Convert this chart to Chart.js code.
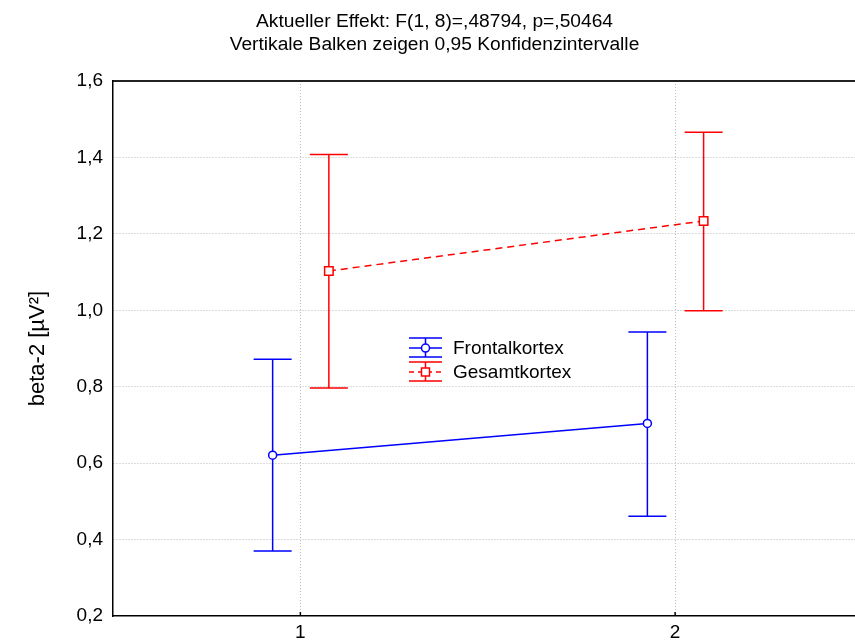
<!DOCTYPE html>
<html>
<head>
<meta charset="utf-8">
<script src="https://cdn.jsdelivr.net/npm/chart.js@4"></script>
<style>
  html, body { margin: 0; padding: 0; background: #fff; }
  #wrap { width: 855px; height: 644px; }
</style>
</head>
<body>
<div id="wrap"><canvas id="chart" width="855" height="644"></canvas></div>
<script>
// ── Data ───────────────────────────────────────────────────────────

const groups = [1, 2];
const groupLabels = ['1', '2'];

const frontalMean = [0.621, 0.704];
const frontalLow  = [0.370, 0.461];
const frontalHigh = [0.872, 0.943];

const gesamtMean = [1.103, 1.234];
const gesamtLow  = [0.797, 0.999];
const gesamtHigh = [1.408, 1.466];

const yTicks = [0.2, 0.4, 0.6, 0.8, 1.0, 1.2, 1.4, 1.6];
const yTickLabels = ['0,2', '0,4', '0,6', '0,8', '1,0', '1,2', '1,4', '1,6'];

const titleLines = [
  'Aktueller Effekt: F(1, 8)=,48794, p=,50464',
  'Vertikale Balken zeigen 0,95 Konfidenzintervalle',
];
const yTitle = 'beta-2 [µV²]';
const seriesNames = ['Frontalkortex', 'Gesamtkortex'];

// ── Styling ────────────────────────────────────────────────────────

const FONT = 'Arial, "Liberation Sans", sans-serif';
const BLUE = '#0000ff';
const RED = '#ff0000';
const GRID = '#b8b8b8';
const SHIFT = [-0.074, 0.076];     // horizontal dodge per series
const CAP = 19;                    // half-width of error bar caps

const series = [
  { name: seriesNames[0], mean: frontalMean, low: frontalLow, high: frontalHigh,
    color: BLUE, dash: [], point: 'circle', radius: 4, shift: SHIFT[0] },
  { name: seriesNames[1], mean: gesamtMean, low: gesamtLow, high: gesamtHigh,
    color: RED, dash: [7, 5], point: 'rect', radius: 6, shift: SHIFT[1] },
];

// ── Plugins ────────────────────────────────────────────────────────

const errorBars = {
  id: 'errorBars',
  beforeDatasetsDraw(chart) {
    const { ctx, scales: { x, y } } = chart;
    ctx.save();
    ctx.lineWidth = 1.5;
    series.forEach(s => {
      ctx.strokeStyle = s.color;
      groups.forEach((g, i) => {
        const px = x.getPixelForValue(g + s.shift);
        const lo = y.getPixelForValue(s.low[i]);
        const hi = y.getPixelForValue(s.high[i]);
        ctx.beginPath();
        ctx.moveTo(px, lo); ctx.lineTo(px, hi);
        ctx.moveTo(px - CAP, lo); ctx.lineTo(px + CAP, lo);
        ctx.moveTo(px - CAP, hi); ctx.lineTo(px + CAP, hi);
        ctx.stroke();
      });
    });
    ctx.restore();
  },
};

// short inward tick marks on the bottom axis
const innerTicks = {
  id: 'innerTicks',
  afterDraw(chart) {
    const { ctx, chartArea, scales: { x } } = chart;
    ctx.save();
    ctx.strokeStyle = '#000';
    ctx.lineWidth = 1.5;
    ctx.beginPath();
    x.ticks.forEach(t => {
      const px = x.getPixelForValue(t.value);
      ctx.moveTo(px, chartArea.bottom);
      ctx.lineTo(px, chartArea.bottom - 4);
    });
    ctx.stroke();
    ctx.restore();
  },
};

// legend box inside the plot, each entry drawn as a small error bar glyph
const innerLegend = {
  id: 'innerLegend',
  afterDraw(chart) {
    const { ctx, chartArea } = chart;
    const x0 = chartArea.left + 296;
    const top = chartArea.top + 267;
    const w = 33;
    ctx.save();
    series.forEach((s, i) => {
      const cy = top + i * 24;
      const cx = x0 + w / 2;
      ctx.strokeStyle = s.color;
      ctx.lineWidth = 1.5;
      ctx.setLineDash([]);
      ctx.beginPath();
      ctx.moveTo(x0, cy - 10); ctx.lineTo(x0 + w, cy - 10);
      ctx.moveTo(x0, cy + 9); ctx.lineTo(x0 + w, cy + 9);
      ctx.moveTo(cx, cy - 10); ctx.lineTo(cx, cy + 9);
      ctx.stroke();
      ctx.setLineDash(s.dash.length ? [5, 4] : []);
      ctx.beginPath();
      ctx.moveTo(x0, cy); ctx.lineTo(x0 + w, cy);
      ctx.stroke();
      ctx.setLineDash([]);
      ctx.fillStyle = '#fff';
      ctx.beginPath();
      if (s.point === 'circle') ctx.arc(cx, cy, 4, 0, Math.PI * 2);
      else ctx.rect(cx - 4, cy - 4, 8, 8);
      ctx.fill();
      ctx.stroke();
      ctx.fillStyle = '#000';
      ctx.font = '19px ' + FONT;
      ctx.textBaseline = 'middle';
      ctx.fillText(s.name, x0 + w + 11, cy + 1);
    });
    ctx.restore();
  },
};

// ── Chart ──────────────────────────────────────────────────────────

const datasets = series.map(s => ({
  label: s.name,
  data: groups.map((g, i) => ({ x: g + s.shift, y: s.mean[i] })),
  showLine: true,
  borderColor: s.color,
  borderWidth: 1.5,
  borderDash: s.dash,
  pointStyle: s.point,
  pointRadius: s.radius,
  pointBorderWidth: 1.5,
  pointBackgroundColor: '#fff',
  pointBorderColor: s.color,
}));

new Chart(document.getElementById('chart'), {
  type: 'scatter',
  data: { datasets },
  plugins: [errorBars, innerTicks, innerLegend],
  options: {
    responsive: false,
    animation: false,
    layout: { autoPadding: false, padding: { left: 14, right: 0, top: 0, bottom: 0 } },
    plugins: {
      legend: { display: false },
      tooltip: { enabled: false },
      title: {
        display: true,
        text: titleLines,
        color: '#000',
        font: { family: FONT, size: 19.2, weight: 'normal', lineHeight: 1.2 },
        padding: { top: 10, bottom: 25 },
      },
    },
    scales: {
      x: {
        type: 'linear',
        min: 0.5,
        max: 2.48,
        afterBuildTicks: sc => { sc.ticks = groups.map(v => ({ value: v })); },
        afterFit: sc => { sc.height = 28; },
        ticks: {
          color: '#000',
          font: { family: FONT, size: 19 },
          padding: 5,
          callback: v => groupLabels[groups.indexOf(v)],
        },
        grid: { color: GRID, lineWidth: 1, drawTicks: false },
        border: { display: true, color: '#000', width: 1.5, dash: [1, 2] },
      },
      xTop: {
        type: 'linear',
        position: 'top',
        min: 0.5,
        max: 2.48,
        afterBuildTicks: sc => { sc.ticks = []; },
        ticks: { display: false },
        grid: { display: false, drawTicks: false },
        border: { display: true, color: '#222', width: 2 },
        afterFit: sc => { sc.height = 0; },
      },
      y: {
        min: 0.2,
        max: 1.6,
        afterBuildTicks: sc => { sc.ticks = yTicks.map(v => ({ value: v })); },
        afterFit: sc => { sc.width = 99; },
        ticks: {
          color: '#000',
          font: { family: FONT, size: 19 },
          padding: 10,
          callback: v => yTickLabels[yTicks.findIndex(t => Math.abs(t - v) < 1e-9)],
        },
        grid: {
          color: ctx => (ctx.tick && (ctx.tick.value <= 0.2 || ctx.tick.value >= 1.6) ? 'rgba(0,0,0,0)' : GRID),
          lineWidth: 1,
          drawTicks: false,
        },
        border: { display: true, color: '#000', width: 1.5, dash: [1, 2] },
        title: {
          display: true,
          text: yTitle,
          color: '#000',
          font: { family: FONT, size: 22 },
          padding: { top: 11, bottom: 0 },
        },
      },
    },
  },
});
</script>
</body>
</html>
